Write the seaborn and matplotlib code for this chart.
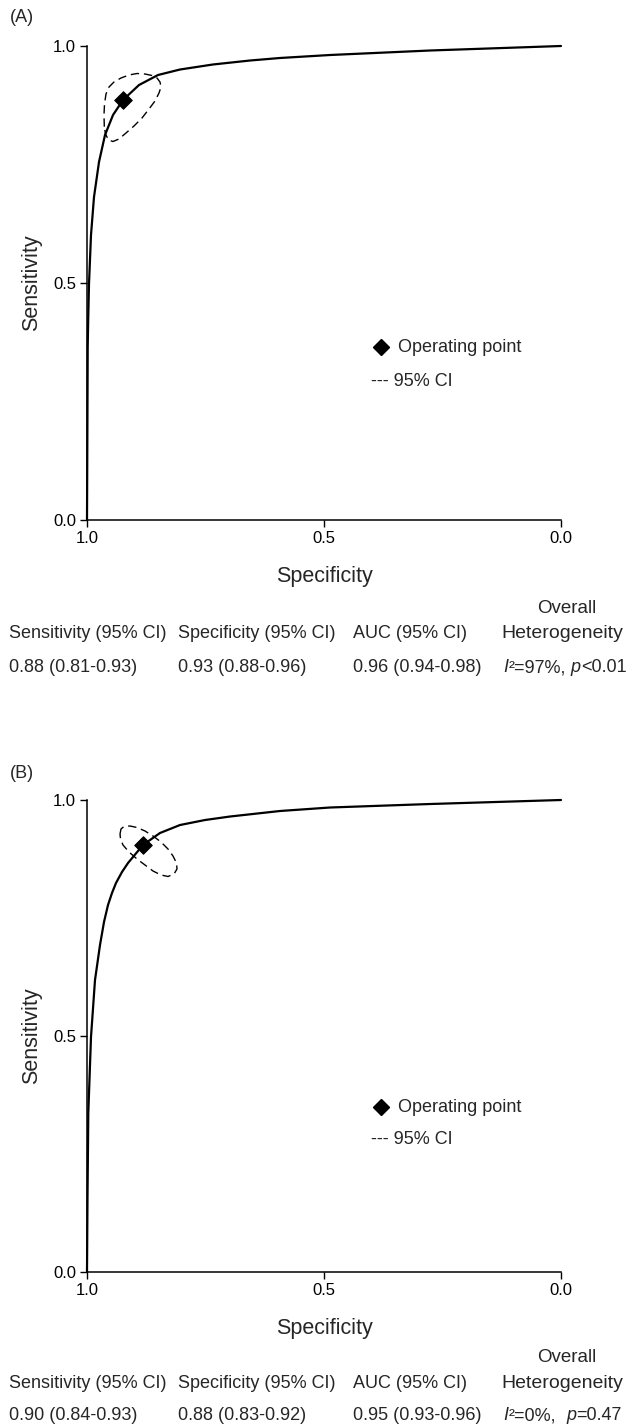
import matplotlib
matplotlib.use("Agg")
import matplotlib.pyplot as plt
import seaborn as sns
import pandas as pd

# ---------------- data ----------------
# Panel A: SROC curve
a_curve_spec = [1.0, 0.99937, 0.99852, 0.99747, 0.99578, 0.99156, 0.98523, 0.97468, 0.96203,
                0.94515, 0.92405, 0.89030, 0.85021, 0.80380, 0.73418, 0.65612, 0.59283,
                0.48734, 0.27637, 0.0]
a_curve_sens = [0.0, 0.1477, 0.3650, 0.4219, 0.4979, 0.6013, 0.6814, 0.7553, 0.8122,
                0.8544, 0.8861, 0.9177, 0.9388, 0.9504, 0.9610, 0.9694, 0.9747,
                0.9810, 0.9905, 1.0]
a_point_spec = [0.924]
a_point_sens = [0.886]
a_ci_spec = [0.96350, 0.96414, 0.96308, 0.95992, 0.95359, 0.94304, 0.92827, 0.91139,
             0.89451, 0.87764, 0.86287, 0.85232, 0.84599, 0.84388, 0.84810, 0.85654,
             0.86920, 0.88397, 0.90084, 0.91772, 0.93249, 0.94515, 0.95464, 0.96097,
             0.96350]
a_ci_sens = [0.82975, 0.85443, 0.87764, 0.89873, 0.91350, 0.92405, 0.93249, 0.93882,
             0.94198, 0.94093, 0.93776, 0.93249, 0.92405, 0.91350, 0.90084, 0.88397,
             0.86709, 0.84810, 0.83122, 0.81646, 0.80380, 0.79852, 0.80169, 0.81435,
             0.82975]

# Panel B
b_curve_spec = [1.0, 0.99895, 0.99726, 0.99156, 0.98312, 0.97257, 0.96414, 0.95570,
                0.94726, 0.93882, 0.92616, 0.91350, 0.88186, 0.84599, 0.80380, 0.75105,
                0.69831, 0.59283, 0.48734, 0.27637, 0.0]
b_curve_sens = [0.0, 0.1589, 0.3369, 0.4979, 0.6186, 0.6928, 0.7415, 0.7775,
                0.8030, 0.8242, 0.8475, 0.8665, 0.9047, 0.9301, 0.9470, 0.9576,
                0.9650, 0.9767, 0.9841, 0.9915, 1.0]
b_point_spec = [0.882]
b_point_sens = [0.905]
b_ci_spec = [0.93038, 0.92827, 0.92194, 0.90928, 0.89451, 0.87764, 0.86076, 0.84388,
             0.82911, 0.81857, 0.81118, 0.81013, 0.81646, 0.82911, 0.84388, 0.86076,
             0.87764, 0.89451, 0.91139, 0.92405, 0.92932, 0.93038]
b_ci_sens = [0.92797, 0.93856, 0.94386, 0.94492, 0.94174, 0.93432, 0.92373, 0.91102,
             0.89619, 0.88136, 0.86653, 0.85381, 0.84322, 0.83792, 0.84110, 0.84958,
             0.86229, 0.87500, 0.88983, 0.90466, 0.91737, 0.92797]

panel_labels = ["(A)", "(B)"]
tick_values = [0.0, 0.5, 1.0]
tick_labels = ["0.0", "0.5", "1.0"]
header_labels = ["Sensitivity (95% CI)", "Specificity (95% CI)", "AUC (95% CI)"]
a_values = ["0.88 (0.81-0.93)", "0.93 (0.88-0.96)", "0.96 (0.94-0.98)"]
b_values = ["0.90 (0.84-0.93)", "0.88 (0.83-0.92)", "0.95 (0.93-0.96)"]
# heterogeneity: (I^2 text, p text)
a_het = ["\u00b2=97%,", "<0.01"]
b_het = ["\u00b2=0%,", "=0.47"]

# ---------------- style ----------------
sns.set_style("ticks")
plt.rcParams["font.family"] = ["Liberation Sans", "DejaVu Sans"]

W, H = 628, 1425
fig = plt.figure(figsize=(W / 100, H / 100), dpi=100)
renderer = fig.canvas.get_renderer()


def fx(px):
    return px / W


def fy(py):
    return 1 - py / H


def chain(x_px, y_px, parts, size):
    """parts: list of (text, style, gap_after_px)"""
    x = x_px
    for txt, style, gap in parts:
        t = fig.text(fx(x), fy(y_px), txt, fontsize=size, style=style,
                     va="center", ha="left")
        bb = t.get_window_extent(renderer)
        x += bb.width + gap


panels = [
    dict(curve=(a_curve_spec, a_curve_sens), pt=(a_point_spec, a_point_sens),
         ci=(a_ci_spec, a_ci_sens), top=46, bottom=520, values=a_values, het=a_het,
         het_gap=5, label_y=18, leg1=347, leg2=381, over_y=608, head_y=634,
         val_y=668),
    dict(curve=(b_curve_spec, b_curve_sens), pt=(b_point_spec, b_point_sens),
         ci=(b_ci_spec, b_ci_sens), top=800, bottom=1272, values=b_values, het=b_het,
         het_gap=10, label_y=773, leg1=1107, leg2=1139, over_y=1357, head_y=1384,
         val_y=1416),
]

left_px, right_px = 87, 561
for i, p in enumerate(panels):
    ax = fig.add_axes([fx(left_px), fy(p["bottom"]), fx(right_px - left_px),
                       (p["bottom"] - p["top"]) / H])
    cdf = pd.DataFrame({"spec": p["curve"][0], "sens": p["curve"][1]})
    sns.lineplot(data=cdf, x="spec", y="sens", sort=False, estimator=None, ax=ax,
                 color="black", lw=1.6, clip_on=False, zorder=3)
    ax.lines[-1].set_solid_joinstyle("round")
    edf = pd.DataFrame({"spec": p["ci"][0], "sens": p["ci"][1]})
    sns.lineplot(data=edf, x="spec", y="sens", sort=False, estimator=None, ax=ax,
                 color="black", lw=1.0, zorder=3)
    ax.lines[-1].set_dashes([6, 3.5])
    pdf = pd.DataFrame({"spec": p["pt"][0], "sens": p["pt"][1]})
    sns.scatterplot(data=pdf, x="spec", y="sens", marker="D", s=80, color="black",
                    edgecolor="black", ax=ax, zorder=4)

    ax.set_xlim(1.0, 0.0)
    ax.set_ylim(0.0, 1.0)
    ax.set_xticks(tick_values)
    ax.set_xticklabels(tick_labels)
    ax.set_yticks(tick_values)
    ax.set_yticklabels(tick_labels)
    ax.tick_params(direction="out", length=5, width=1.0, labelsize=12, pad=3,
                   colors="black")
    for s in ["top", "right"]:
        ax.spines[s].set_visible(False)
    for s in ["left", "bottom"]:
        ax.spines[s].set_linewidth(1.1)
        ax.spines[s].set_color("black")
    ax.set_xlabel("Specificity", fontsize=15.5, labelpad=14)
    ax.set_ylabel("Sensitivity", fontsize=15.5, labelpad=8)

    # legend drawn manually
    lx = (381 - left_px) / (right_px - left_px)
    ly1 = (p["bottom"] - p["leg1"]) / (p["bottom"] - p["top"])
    ly2 = (p["bottom"] - p["leg2"]) / (p["bottom"] - p["top"])
    ax.plot([lx], [ly1], marker="D", ms=8.5, color="black", transform=ax.transAxes,
            clip_on=False)
    ax.text((398 - left_px) / (right_px - left_px), ly1, "Operating point",
            transform=ax.transAxes, fontsize=13, va="center", ha="left")
    ax.text((371 - left_px) / (right_px - left_px), ly2, "--- 95% CI",
            transform=ax.transAxes, fontsize=13, va="center", ha="left")

    # panel label
    fig.text(fx(10), fy(p["label_y"]), panel_labels[i], fontsize=13, va="center",
             ha="left")

    # summary table
    col_x = [9, 178, 353]
    for cx, h, v in zip(col_x, header_labels, p["values"]):
        fig.text(fx(cx), fy(p["head_y"]), h, fontsize=13, va="center", ha="left")
        fig.text(fx(cx), fy(p["val_y"]), v, fontsize=13, va="center", ha="left")
    fig.text(fx(567), fy(p["over_y"]), "Overall", fontsize=13.5, va="center",
             ha="center")
    fig.text(fx(501), fy(p["head_y"]), "Heterogeneity", fontsize=14, va="center",
             ha="left")
    chain(503, p["val_y"], [("I", "italic", 0.5), (p["het"][0], "normal", p["het_gap"]),
                            ("p", "italic", 0.5), (p["het"][1], "normal", 0)], 13)

fig.savefig("out.png", dpi=100)
